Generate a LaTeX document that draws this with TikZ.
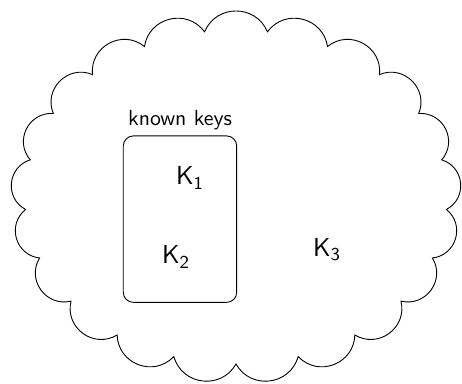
\documentclass[tikz,border=0pt]{standalone}
\usetikzlibrary{shapes.symbols}
\begin{document}
\begin{tikzpicture}[x=0.5pt,y=0.5pt,
  cloudline/.style={draw, line width=0.45pt},
  keybox/.style={draw, line width=0.45pt, rounded corners=5pt, minimum width=56.7pt, minimum height=83.2pt, inner sep=0pt},
  keylabel/.style={font=\sffamily\fontsize{13}{15}\selectfont, inner sep=0pt},
  smalllabel/.style={font=\sffamily\fontsize{10.9}{12}\selectfont, inner sep=0pt},
  puff/.style={bend right=67.5, looseness=1.23}]
\useasboundingbox (0,0) rectangle (462,384);
\coordinate (cc) at (236,187);
\draw[cloudline] ({236+211*cos(98.571)},{187+167*sin(98.571)})
  \foreach \k [evaluate=\k as \tb using 98.571+(\k+1)*17.142857] in {0,...,20} {
    to[puff] ({236+211*cos(\tb)},{187+167*sin(\tb)})
  } -- cycle;
\node[keybox] (knownbox) at (180,164.85) {};
\node[smalllabel, anchor=base] (known) at (180,258) {known keys};
\node[keylabel] (k1) at (190,206) {K\textsubscript{1}};
\node[keylabel] (k2) at (176,127) {K\textsubscript{2}};
\node[keylabel] (k3) at (327,134) {K\textsubscript{3}};
\end{tikzpicture}
\end{document}
